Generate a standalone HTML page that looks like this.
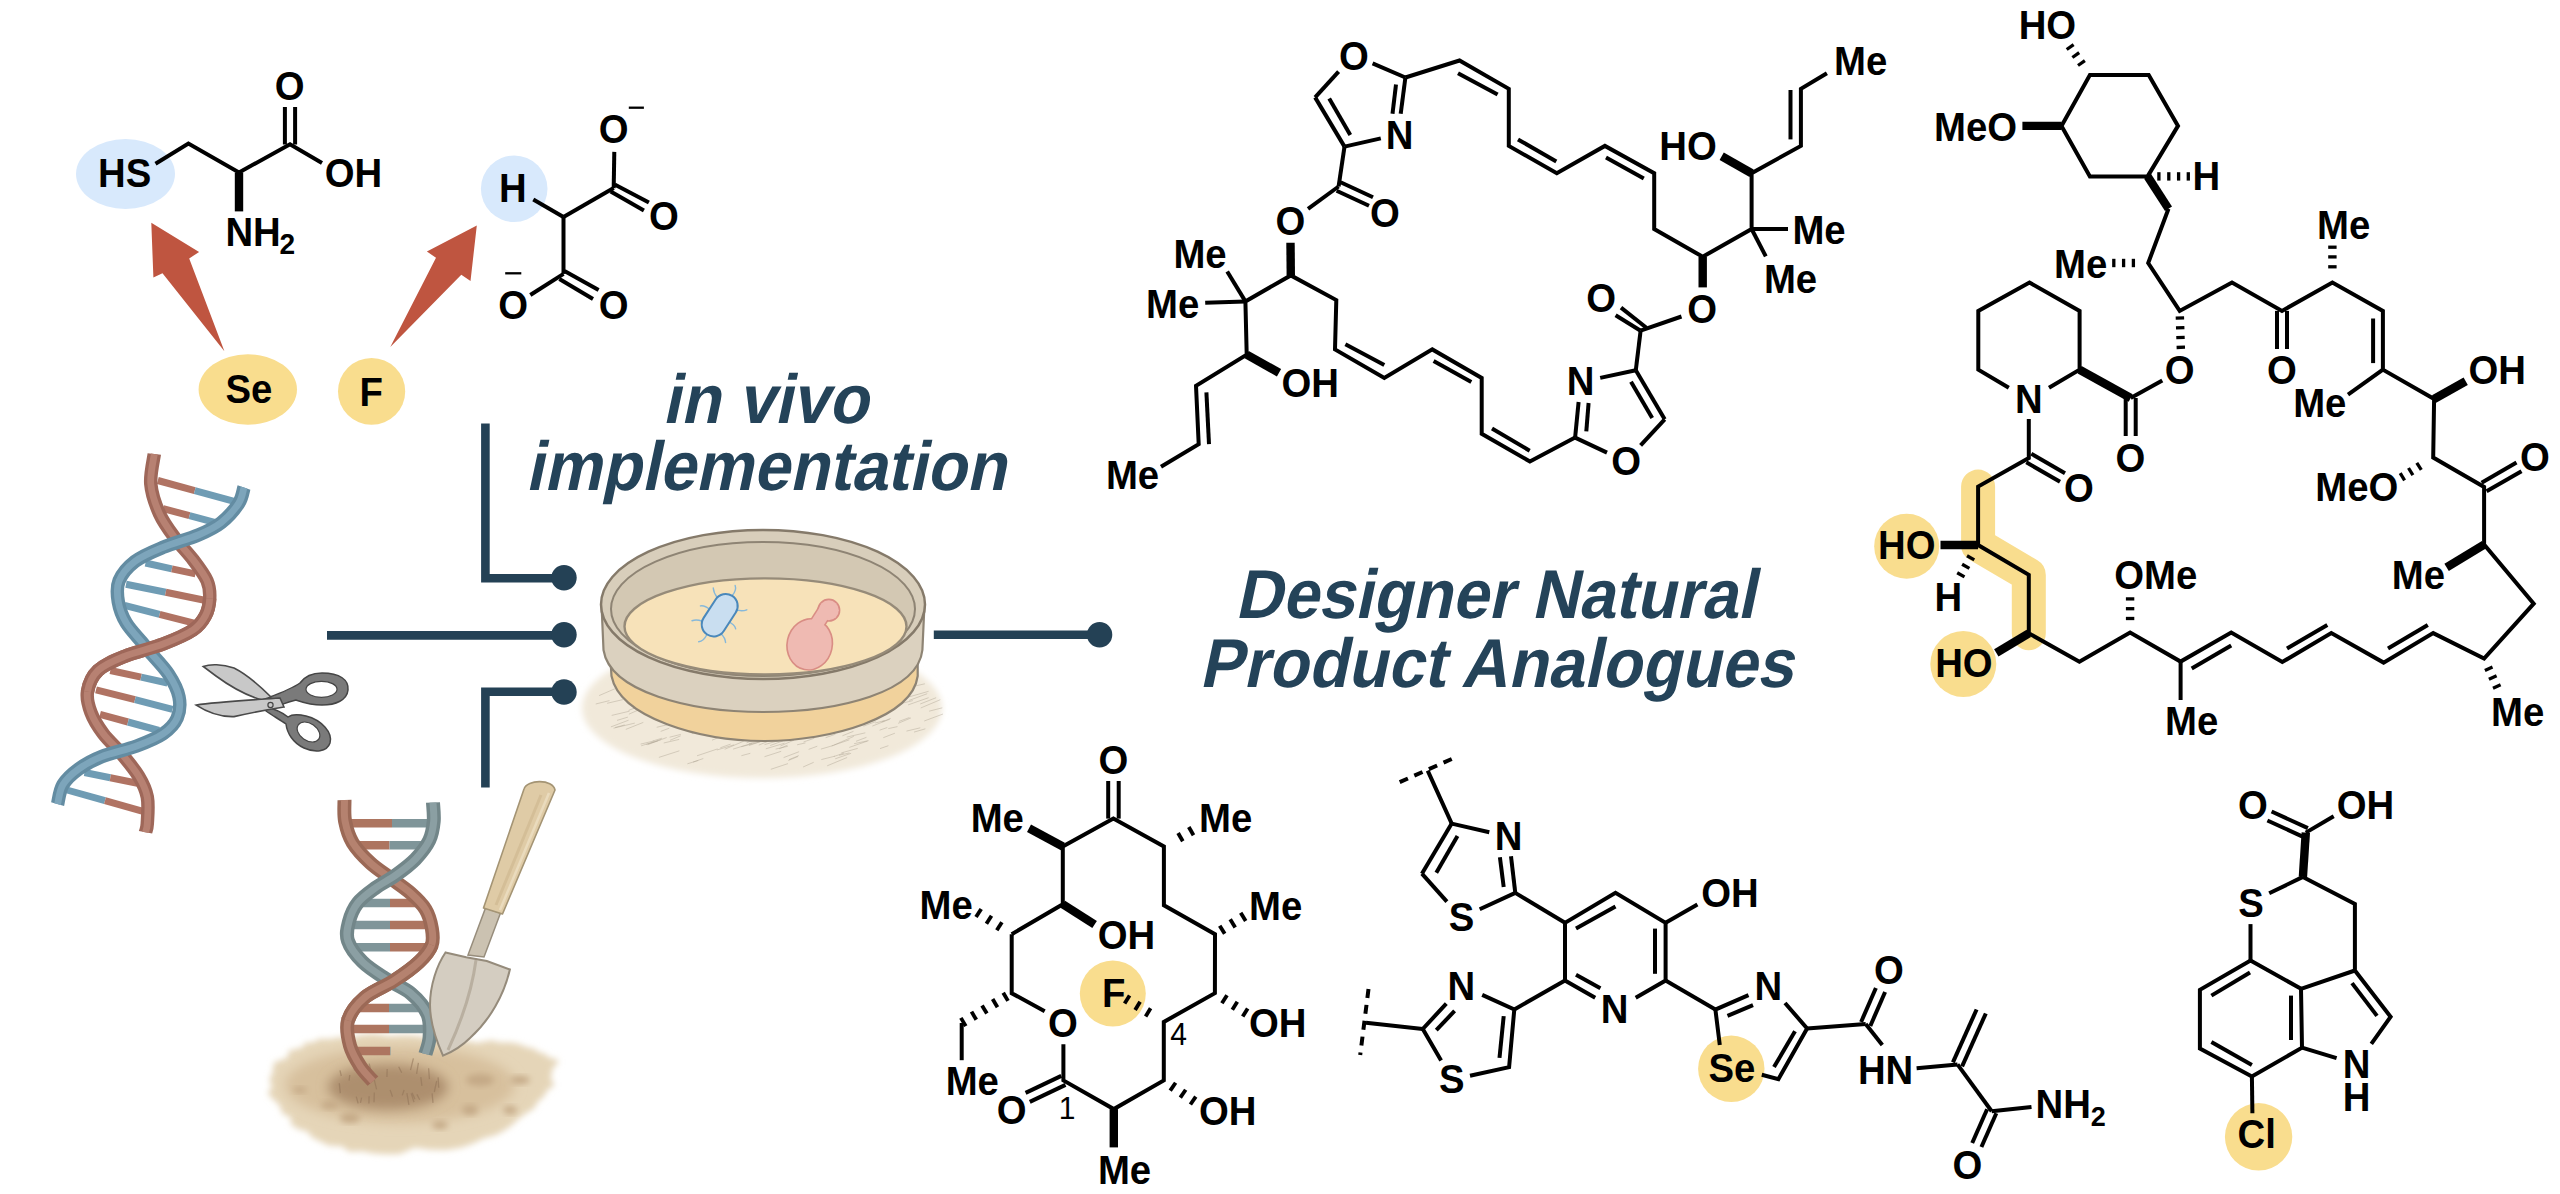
<!DOCTYPE html>
<html><head><meta charset="utf-8"><style>
html,body{margin:0;padding:0;background:#fff;}
svg{display:block;}
text{font-family:"Liberation Sans",sans-serif;}
</style></head><body>
<svg width="2560" height="1194" viewBox="0 0 2560 1194">
<rect width="2560" height="1194" fill="#fff"/>
<defs><filter id="blur6" x="-30%" y="-30%" width="160%" height="160%"><feGaussianBlur stdDeviation="6"/></filter><filter id="blur3" x="-30%" y="-30%" width="160%" height="160%"><feGaussianBlur stdDeviation="3"/></filter><filter id="blur10" x="-30%" y="-30%" width="160%" height="160%"><feGaussianBlur stdDeviation="10"/></filter></defs>
<ellipse cx="762" cy="708" rx="180" ry="70" fill="#f1e9da" filter="url(#blur3)"/>
<path d="M745.6,717.2 l19.9,-6.6 M765.3,721.1 l10.1,-3.2 M808.6,749.4 l8.7,-3.2 M817.1,724.9 l9.3,-4.1 M772.6,648.2 l9.9,-3.8 M595.7,704.0 l13.8,-3.4 M769.3,728.4 l14.4,-4.1 M747.4,678.4 l21.5,-4.6 M883.3,737.7 l11.6,-4.5 M857.0,695.3 l18.7,-6.6 M908.1,704.9 l20.5,-7.2 M610.9,726.9 l17.7,-6.7 M615.9,685.9 l20.8,-5.5 M626.9,674.0 l8.6,-3.7 M867.9,664.5 l15.0,-5.1 M652.7,741.0 l9.4,-2.8 M626.4,698.1 l10.3,-3.9 M693.0,762.1 l10.3,-3.6 M888.3,728.6 l9.2,-2.0 M660.7,675.6 l17.7,-6.5 M617.0,720.4 l10.9,-3.3 M717.0,702.5 l20.4,-6.7 M789.0,759.6 l9.8,-4.0 M673.6,666.2 l17.9,-4.0 M898.2,723.3 l12.8,-5.4 M669.6,737.2 l11.2,-2.8 M796.7,680.5 l10.1,-2.8 M783.6,757.6 l15.5,-5.9 M743.2,648.3 l9.9,-3.5 M788.1,658.2 l12.7,-3.0 M830.4,720.7 l9.1,-4.0 M756.2,740.8 l12.2,-2.6 M611.7,715.4 l17.8,-4.2 M846.7,737.1 l18.6,-4.3 M709.9,734.6 l20.0,-4.8 M733.1,749.1 l19.2,-5.9 M806.9,692.8 l15.5,-4.6 M613.5,728.2 l21.3,-5.1 M843.5,693.6 l17.5,-5.4 M741.4,755.7 l8.9,-2.4 M755.7,671.8 l16.9,-5.5 M803.1,767.0 l10.6,-4.7 M691.9,733.6 l10.0,-4.1 M906.5,731.1 l13.8,-3.3 M701.1,731.9 l10.2,-3.5 M897.5,693.0 l15.2,-5.6 M633.3,708.5 l19.1,-4.7 M683.3,663.3 l13.4,-5.1 M661.0,697.1 l15.9,-5.2 M697.0,755.8 l20.6,-6.9 M836.6,718.7 l11.9,-3.1 M879.5,672.8 l9.1,-4.0 M808.4,701.6 l16.2,-4.7 M828.0,667.5 l13.6,-5.5 M838.5,664.7 l11.1,-4.0 M832.5,711.8 l16.0,-4.3 M724.7,749.3 l19.0,-8.1 M631.1,702.6 l16.3,-3.8 M718.8,718.5 l19.7,-5.1 M920.2,704.0 l15.9,-6.3 M841.3,752.9 l16.4,-4.5 M775.6,749.1 l12.2,-2.8 M888.8,688.1 l8.7,-2.9 M780.4,746.0 l13.6,-5.9 M869.0,663.9 l12.3,-3.2 M768.4,739.9 l19.0,-5.4 M920.7,708.0 l19.6,-8.3 M663.6,712.7 l11.6,-3.2 M811.8,712.1 l18.9,-5.9 M695.7,692.6 l19.3,-4.5 M658.9,757.4 l20.5,-6.6 M788.4,667.7 l14.7,-4.8 M929.1,711.2 l13.2,-3.4 M784.8,707.8 l16.2,-7.0 M776.2,697.1 l20.9,-4.8 M680.6,705.3 l9.3,-3.2 M754.2,683.8 l10.2,-3.0 M653.9,671.4 l16.5,-6.1 M711.1,725.5 l9.1,-2.5 M628.6,710.4 l10.7,-4.2 M773.3,700.3 l12.5,-4.3 M772.9,662.0 l10.4,-3.1 M811.7,713.1 l19.1,-5.7 M889.2,672.1 l17.8,-4.5 M905.5,683.6 l12.1,-2.8 M670.0,740.3 l10.7,-4.5 M880.4,698.2 l17.6,-7.3 M728.0,734.6 l7.7,-3.0 M827.2,765.8 l19.9,-8.3 M764.5,744.6 l14.5,-4.1 M780.8,711.0 l14.8,-6.0 M650.5,668.1 l19.3,-4.1 M749.0,745.5 l11.9,-4.0 M767.9,699.4 l15.0,-6.6 M833.9,756.5 l10.0,-3.4 M847.5,695.9 l9.9,-4.0 M835.2,758.8 l15.9,-5.5 M797.9,709.6 l21.1,-5.4 M849.3,747.4 l18.3,-6.4 M831.7,745.9 l17.7,-6.1 M706.3,704.7 l7.7,-2.8 M811.7,726.1 l11.0,-2.5 M821.5,686.6 l16.5,-5.1 M774.2,693.8 l21.1,-6.2 M833.9,745.1 l19.9,-8.7 M803.5,742.0 l10.9,-3.8 M718.4,653.6 l11.2,-2.6 M780.3,710.1 l20.6,-6.4 M797.1,744.8 l8.4,-1.9 M641.8,705.1 l9.9,-3.2 M802.0,648.1 l20.1,-6.9 M772.0,722.5 l12.3,-4.6 M817.6,717.4 l11.5,-3.2 M640.6,744.1 l13.1,-3.1 M737.5,705.9 l20.2,-7.8 M770.8,769.3 l17.2,-5.7 M799.3,655.9 l15.9,-5.3 M772.5,657.2 l13.7,-3.9 M746.7,676.2 l15.3,-5.2 M861.2,713.2 l21.4,-4.8 M845.7,672.9 l9.3,-2.2 M863.4,726.2 l12.2,-4.6 M828.2,718.0 l15.6,-4.6 M852.4,666.2 l11.2,-2.4 M681.2,698.7 l15.4,-6.5 M777.3,650.0 l8.9,-2.5 M780.5,727.1 l12.6,-4.1 M659.8,687.4 l17.9,-4.4 M872.3,726.1 l17.5,-6.9 M735.6,675.6 l18.2,-6.5 M700.5,715.7 l18.0,-4.1 M736.8,691.0 l9.1,-2.2 M785.3,706.9 l16.5,-6.1 M660.7,731.4 l8.6,-3.2 M842.4,735.8 l11.1,-4.5 M712.0,740.2 l12.1,-5.0 M836.8,718.6 l20.3,-4.6 M909.2,700.4 l18.0,-6.7 M697.8,695.1 l20.5,-4.8 M673.1,689.9 l12.4,-4.4 M725.4,693.5 l10.2,-3.2 M868.0,714.6 l18.8,-5.8 M647.7,744.7 l19.0,-7.2 M778.2,718.3 l20.7,-6.0 M779.1,748.8 l8.4,-3.6 M615.1,727.5 l9.7,-2.6 M815.4,673.9 l10.7,-2.8 M770.2,745.5 l12.7,-4.6 M760.2,714.2 l17.4,-4.8 M909.8,696.7 l18.8,-5.4 M771.0,738.0 l18.2,-6.2 M734.3,660.2 l18.0,-3.9 M718.3,663.1 l10.3,-3.5 M625.8,729.4 l17.5,-7.0 M607.1,703.3 l15.8,-3.7 M650.5,670.0 l10.9,-3.0 M796.1,670.9 l9.9,-3.7 M646.2,744.5 l11.8,-3.7 M875.1,706.2 l11.3,-2.7 M909.6,687.2 l15.3,-3.4 M756.3,670.5 l8.5,-1.9 M869.5,693.1 l14.6,-4.7 M818.4,672.8 l7.7,-2.6 M716.9,750.0 l17.2,-5.2 M699.2,675.8 l19.2,-6.2 M679.6,713.8 l9.8,-2.6 M839.4,653.4 l14.0,-4.6 M924.2,721.0 l18.8,-7.0 M865.2,697.5 l19.2,-8.1 M878.3,668.8 l14.9,-4.7 M695.5,682.9 l8.5,-3.1 M750.9,738.7 l12.5,-3.5 M622.5,694.4 l14.1,-3.1 M879.6,730.2 l7.7,-2.7 M837.1,672.8 l15.1,-5.0 M868.8,668.5 l15.6,-5.8 M718.5,714.5 l11.4,-4.2 M724.2,732.0 l10.8,-4.3 M844.7,685.5 l20.3,-6.3 M841.9,685.8 l18.0,-7.6 M825.6,737.7 l9.9,-3.5 M882.1,721.8 l8.6,-3.4 M729.4,650.0 l19.8,-6.8 M766.6,729.3 l18.2,-4.6 M722.0,685.7 l12.6,-5.6 M727.3,736.6 l21.1,-5.5 M819.4,724.0 l7.8,-2.8 M706.5,729.8 l8.9,-3.2 M765.8,748.8 l18.7,-5.6 M641.2,745.8 l19.7,-6.2 M710.2,709.1 l9.6,-2.7 M839.0,755.3 l10.5,-2.4 M807.6,667.3 l8.6,-3.3 M789.7,736.2 l12.3,-2.8 M713.2,703.9 l9.5,-2.1 M777.9,717.4 l14.8,-5.6 M875.2,723.0 l9.4,-2.4 M687.4,763.8 l10.9,-3.3 M879.9,665.6 l14.4,-6.1 M818.7,682.5 l16.8,-4.5 M720.5,721.7 l17.6,-7.8 M655.8,704.6 l9.4,-3.3 M787.2,664.0 l14.3,-5.4 M786.7,685.8 l15.6,-6.8 M823.2,660.0 l20.5,-6.2 M751.8,696.8 l16.1,-4.5 M854.1,743.7 l14.5,-3.1 M730.2,699.9 l15.5,-3.6 M771.7,712.5 l13.7,-3.2 M844.9,722.5 l17.4,-6.4 M795.7,649.6 l9.2,-3.1 M763.4,694.7 l8.4,-2.4 M771.8,673.0 l11.6,-4.1 M821.3,759.6 l13.5,-3.4 M663.7,743.0 l15.5,-3.6 M628.9,714.2 l19.5,-8.7 M671.6,681.3 l11.5,-5.0 M726.0,689.2 l14.9,-6.4 M694.3,708.8 l20.6,-4.5 M752.8,668.5 l11.8,-2.7 M882.5,688.9 l13.6,-5.5 M656.7,727.3 l10.4,-2.5 M842.7,683.2 l20.0,-4.8 M838.2,658.6 l17.3,-3.9 M743.0,650.9 l10.4,-3.9 M837.2,667.1 l9.8,-3.8 M820.9,749.1 l12.7,-3.7 M899.0,721.4 l10.5,-3.9 M914.0,732.1 l11.4,-3.3 M741.3,712.9 l14.2,-6.1 M797.9,679.3 l11.2,-2.9 M615.9,679.4 l17.3,-6.7 M684.1,715.6 l10.3,-2.4 M748.9,743.6 l13.1,-3.0 M762.5,664.8 l15.2,-4.4 M712.7,730.8 l18.1,-5.8 M764.5,756.7 l16.7,-5.4 M861.8,662.8 l15.4,-6.0 M741.4,746.7 l18.4,-4.8 M668.8,707.5 l10.6,-3.3 M762.1,644.9 l15.8,-4.3 M788.3,760.5 l9.7,-4.0 M739.3,701.0 l11.3,-2.9 M787.0,715.0 l17.8,-6.9 M636.9,682.9 l8.1,-3.0 M805.5,712.5 l11.2,-3.4 M645.9,675.2 l9.9,-2.8 M880.0,748.6 l8.4,-2.9 M714.4,669.9 l19.8,-8.6 M758.8,745.1 l20.2,-8.3 M746.6,742.8 l8.0,-3.1 M724.5,681.1 l12.8,-5.5 M856.0,741.3 l10.5,-4.0 M780.9,673.4 l14.1,-3.2 M714.2,686.5 l20.8,-6.2 M599.1,695.6 l15.7,-6.8 M706.8,735.9 l19.2,-5.8 M899.7,703.8 l13.1,-3.2 M720.3,747.8 l10.4,-3.7 M650.2,715.8 l9.6,-3.8" stroke="#a59b8a" stroke-width="0.9" fill="none" opacity="0.45"/>
<path d="M610.5,660 L611.5,676 C620,718 700,741 765,741 C830,741 912,718 917.7,676 L917.7,660 Z" fill="#f1d29c" stroke="#8e8474" stroke-width="2.2"/>
<path d="M601.5,604 L603.5,650 C610,692 690,712 763,712 C840,712 918,692 922.4,650 L924.5,604 Z" fill="#dbd1bf" stroke="#8e8474" stroke-width="2.2"/>
<ellipse cx="763" cy="604.4" rx="162" ry="74.5" fill="#d8cebb" stroke="#857a6a" stroke-width="2.5"/>
<ellipse cx="763" cy="609" rx="152" ry="67" fill="#d3c8b3" stroke="#8e8474" stroke-width="2"/>
<ellipse cx="765.5" cy="626.4" rx="141" ry="48" fill="#f7e2b9" stroke="#968b79" stroke-width="2.4"/>
<g transform="rotate(-57 719.7 615.2)"><g stroke="#86b8da" stroke-width="1.4" fill="none" stroke-linecap="round"><path d="M705,604 q-1,-6 -5,-9"/><path d="M719,604 q1,-7 -2,-10"/><path d="M733,604 q2,-6 6,-9"/><path d="M705,626 q-1,6 -5,9"/><path d="M719,626 q1,7 -2,10"/><path d="M733,626 q2,6 6,9"/><path d="M696,615 q-7,1 -10,-3"/><path d="M743,615 q7,1 10,-3"/></g><rect x="696.7" y="603.2" width="46" height="24" rx="12" fill="#c9def0" stroke="#4a88bb" stroke-width="2"/></g>
<g fill="#efbab2" stroke="#d98d84" stroke-width="3.2"><ellipse cx="809.7" cy="644.4" rx="21.8" ry="24.9" transform="rotate(12 809.7 644.4)"/><circle cx="828.8" cy="610.2" r="10"/><path d="M813,630 L827,608" stroke-width="16.2"/></g>
<g fill="#efbab2" stroke="#efbab2" stroke-width="0"><ellipse cx="809.7" cy="644.4" rx="21.8" ry="24.9" transform="rotate(12 809.7 644.4)"/><circle cx="828.8" cy="610.2" r="10"/><path d="M813,630 L827,608" stroke-width="13"/></g>
<path d="M270.3,1083.2 L269.9,1077.8 L272.9,1072.7 L273.0,1067.2 L274.6,1061.9 L283.4,1059.4 L288.7,1056.2 L288.2,1050.9 L297.0,1048.8 L303.4,1047.0 L304.8,1042.7 L314.4,1042.3 L318.4,1039.0 L330.5,1039.1 L339.6,1037.2 L352.1,1038.3 L359.7,1034.7 L373.9,1033.7 L390.1,1036.3 L404.9,1035.3 L420.1,1036.3 L431.3,1041.1 L445.7,1037.4 L457.6,1039.1 L468.6,1041.3 L477.0,1043.1 L491.7,1040.3 L499.4,1042.6 L510.9,1042.5 L519.4,1044.3 L525.9,1047.1 L534.8,1048.9 L538.8,1052.4 L545.8,1054.0 L547.6,1057.2 L555.2,1058.9 L559.1,1061.5 L552.5,1068.4 L551.5,1074.0 L550.8,1079.5 L554.8,1084.8 L546.8,1090.8 L543.9,1096.5 L537.4,1102.1 L534.6,1108.0 L526.2,1113.3 L518.5,1118.7 L512.6,1124.5 L505.1,1130.0 L495.9,1135.0 L483.2,1138.4 L473.2,1143.6 L461.4,1147.5 L446.6,1150.0 L430.2,1149.7 L414.8,1147.6 L399.6,1154.0 L386.4,1154.3 L373.7,1153.5 L362.5,1151.2 L349.3,1151.7 L342.0,1146.3 L328.4,1145.4 L320.0,1141.3 L311.8,1137.2 L307.9,1131.8 L297.1,1128.6 L290.6,1123.7 L291.3,1117.4 L282.4,1113.7 L281.1,1108.9 L278.9,1104.3 L273.9,1099.9 L269.6,1095.8 L267.9,1091.4 L272.7,1087.4 Z" fill="#e5d5b8" filter="url(#blur3)"/>
<ellipse cx="400" cy="1085" rx="115" ry="38" fill="#d7c09d" filter="url(#blur6)"/>
<ellipse cx="388" cy="1087" rx="60" ry="23" fill="#ad8f6e" filter="url(#blur6)"/>
<path d="M402.3,1095.4 l1.8,-5.4 M414.0,1102.1 l-2.8,-8.7 M434.3,1092.0 l2.4,-11.2 M386.9,1077.1 l0.3,-8.0 M341.3,1076.0 l-1.3,-5.6 M416.6,1073.9 l1.8,-11.0 M401.7,1072.7 l-3.0,-5.9 M360.9,1076.0 l2.9,-5.9 M368.9,1103.6 l0.2,-7.3 M360.5,1102.8 l1.1,-5.2 M429.4,1079.1 l-0.8,-10.8 M354.6,1070.4 l-1.2,-7.8 M340.3,1093.1 l-1.0,-9.8 M421.9,1085.8 l-1.1,-8.6 M410.5,1070.1 l2.9,-11.8 M415.0,1099.3 l-2.9,-6.5 M376.6,1089.4 l-2.9,-11.7 M358.1,1103.3 l-1.8,-6.7 M433.0,1102.9 l-0.9,-9.5 M392.5,1096.7 l-2.4,-6.8 M419.7,1099.8 l-2.8,-5.4 M349.1,1080.6 l0.7,-5.6 M374.0,1102.2 l0.3,-9.8 M371.7,1074.6 l-2.5,-11.0 M408.9,1104.9 l-2.0,-11.7 M438.7,1087.7 l-0.6,-10.3" stroke="#8f7257" stroke-width="1.3" fill="none" opacity="0.55"/>
<ellipse cx="480" cy="1080" rx="14" ry="6" fill="#c4a986" filter="url(#blur3)"/>
<ellipse cx="470" cy="1110" rx="8" ry="5" fill="#c4a986" filter="url(#blur3)"/>
<ellipse cx="510" cy="1110" rx="7" ry="4" fill="#c4a986" filter="url(#blur3)"/>
<ellipse cx="350" cy="1118" rx="10" ry="5" fill="#c4a986" filter="url(#blur3)"/>
<ellipse cx="330" cy="1105" rx="9" ry="4" fill="#c4a986" filter="url(#blur3)"/>
<ellipse cx="440" cy="1125" rx="8" ry="4" fill="#c4a986" filter="url(#blur3)"/>
<ellipse cx="300" cy="1090" rx="7" ry="3" fill="#c4a986" filter="url(#blur3)"/>
<ellipse cx="520" cy="1080" rx="10" ry="4" fill="#c4a986" filter="url(#blur3)"/>
<line x1="157.8" y1="480.5" x2="194.8" y2="490.6" stroke="#b07363" stroke-width="7"/>
<line x1="194.8" y1="490.6" x2="236" y2="501.8" stroke="#6f9cb4" stroke-width="7"/>
<line x1="163.1" y1="508.6" x2="189.5" y2="515.7" stroke="#b07363" stroke-width="7"/>
<line x1="189.5" y1="515.7" x2="216.5" y2="522.9" stroke="#6f9cb4" stroke-width="7"/>
<line x1="145.5" y1="563" x2="171.9" y2="568.8" stroke="#6f9cb4" stroke-width="7"/>
<line x1="171.9" y1="568.8" x2="195.5" y2="573.9" stroke="#b07363" stroke-width="7"/>
<line x1="126" y1="584.2" x2="165.7" y2="592.3" stroke="#6f9cb4" stroke-width="7"/>
<line x1="165.7" y1="592.3" x2="204.5" y2="600.2" stroke="#b07363" stroke-width="7"/>
<line x1="124.5" y1="605.3" x2="159.6" y2="614.3" stroke="#6f9cb4" stroke-width="7"/>
<line x1="159.6" y1="614.3" x2="194" y2="623.2" stroke="#b07363" stroke-width="7"/>
<line x1="110.3" y1="670.5" x2="141.1" y2="677.2" stroke="#b07363" stroke-width="7"/>
<line x1="141.1" y1="677.2" x2="167.5" y2="683" stroke="#6f9cb4" stroke-width="7"/>
<line x1="96" y1="689.8" x2="135" y2="699.7" stroke="#b07363" stroke-width="7"/>
<line x1="135" y1="699.7" x2="172.5" y2="709.3" stroke="#6f9cb4" stroke-width="7"/>
<line x1="100" y1="714.4" x2="128" y2="722" stroke="#b07363" stroke-width="7"/>
<line x1="128" y1="722" x2="159" y2="730.5" stroke="#6f9cb4" stroke-width="7"/>
<line x1="84.5" y1="772.5" x2="110.3" y2="777.7" stroke="#6f9cb4" stroke-width="7"/>
<line x1="110.3" y1="777.7" x2="137.5" y2="783.2" stroke="#b07363" stroke-width="7"/>
<line x1="67" y1="790" x2="105" y2="800.6" stroke="#6f9cb4" stroke-width="7"/>
<line x1="105" y1="800.6" x2="143" y2="811.3" stroke="#b07363" stroke-width="7"/>
<path d="M154.3,454 C153.7,459 149.9,474 150.8,484 C151.7,494 155.5,504.8 159.6,513.9 C163.7,523 169.8,530.9 175.4,538.5 C181,546.1 187.7,552.6 193,559.6 C198.3,566.6 204.2,574.2 207,580.7 C209.8,587.2 210,592.4 209.7,598.3 C209.4,604.2 208.1,610.6 205.3,615.9 C202.5,621.2 200,625.3 193,630 C186,634.7 174.5,639.6 163.1,644 C151.7,648.4 135.2,652 124.4,656.4 C113.6,660.8 104.2,664.6 98,670.5 C91.8,676.4 88.7,684.6 87.5,691.6 C86.3,698.6 88.4,705.7 91,712.7 C93.6,719.7 98.3,727.1 103.3,733.8 C108.3,740.5 115,746.1 120.9,753.1 C126.8,760.1 134.1,768.7 138.5,776 C142.9,783.3 145.8,789.1 147.3,797 C148.8,804.9 147.6,817.6 147.3,823.5 C147,829.4 145.8,830.8 145.5,832.3" fill="none" stroke="#9e6759" stroke-width="13.5" stroke-linecap="butt"/>
<path d="M154.3,454 C153.7,459 149.9,474 150.8,484 C151.7,494 155.5,504.8 159.6,513.9 C163.7,523 169.8,530.9 175.4,538.5 C181,546.1 187.7,552.6 193,559.6 C198.3,566.6 204.2,574.2 207,580.7 C209.8,587.2 210,592.4 209.7,598.3 C209.4,604.2 208.1,610.6 205.3,615.9 C202.5,621.2 200,625.3 193,630 C186,634.7 174.5,639.6 163.1,644 C151.7,648.4 135.2,652 124.4,656.4 C113.6,660.8 104.2,664.6 98,670.5 C91.8,676.4 88.7,684.6 87.5,691.6 C86.3,698.6 88.4,705.7 91,712.7 C93.6,719.7 98.3,727.1 103.3,733.8 C108.3,740.5 115,746.1 120.9,753.1 C126.8,760.1 134.1,768.7 138.5,776 C142.9,783.3 145.8,789.1 147.3,797 C148.8,804.9 147.6,817.6 147.3,823.5 C147,829.4 145.8,830.8 145.5,832.3" fill="none" stroke="#b78172" stroke-width="6.8" stroke-linecap="butt"/>
<path d="M244,487.5 C243.1,490.1 242.5,497.4 238.7,503.3 C234.9,509.2 227.8,517.4 221.1,522.7 C214.4,528 208,530.9 198.3,535 C188.6,539.1 173.7,542.9 163.1,547.3 C152.5,551.7 142.3,555.8 135,561.4 C127.7,567 121.9,574 119.1,580.7 C116.3,587.4 117.1,594.8 118.3,601.8 C119.5,608.8 122.2,616.1 126.2,622.9 C130.2,629.6 138.2,637.6 142,642.3 C145.8,647 144.6,645.8 149,651.1 C153.4,656.4 163.4,666.4 168.4,674 C173.4,681.6 177.5,689.5 179,696.8 C180.5,704.1 179.8,711.8 177.2,718 C174.5,724.2 169.8,729.1 163.1,733.8 C156.3,738.5 146.9,742.2 136.7,746 C126.4,749.8 111.3,752.8 101.6,756.6 C91.9,760.4 85.2,764.3 78.7,769 C72.2,773.7 66.4,778.9 62.9,784.8 C59.4,790.6 58.5,800.9 57.6,804.1" fill="none" stroke="#638ca2" stroke-width="13.5" stroke-linecap="butt"/>
<path d="M244,487.5 C243.1,490.1 242.5,497.4 238.7,503.3 C234.9,509.2 227.8,517.4 221.1,522.7 C214.4,528 208,530.9 198.3,535 C188.6,539.1 173.7,542.9 163.1,547.3 C152.5,551.7 142.3,555.8 135,561.4 C127.7,567 121.9,574 119.1,580.7 C116.3,587.4 117.1,594.8 118.3,601.8 C119.5,608.8 122.2,616.1 126.2,622.9 C130.2,629.6 138.2,637.6 142,642.3 C145.8,647 144.6,645.8 149,651.1 C153.4,656.4 163.4,666.4 168.4,674 C173.4,681.6 177.5,689.5 179,696.8 C180.5,704.1 179.8,711.8 177.2,718 C174.5,724.2 169.8,729.1 163.1,733.8 C156.3,738.5 146.9,742.2 136.7,746 C126.4,749.8 111.3,752.8 101.6,756.6 C91.9,760.4 85.2,764.3 78.7,769 C72.2,773.7 66.4,778.9 62.9,784.8 C59.4,790.6 58.5,800.9 57.6,804.1" fill="none" stroke="#7da5bb" stroke-width="6.8" stroke-linecap="butt"/>
<path d="M209.7,598.3 C209.4,604.2 208.1,610.6 205.3,615.9 C202.5,621.2 200,625.3 193,630 C186,634.7 174.5,639.6 163.1,644 C151.7,648.4 135.2,652 124.4,656.4 C113.6,660.8 104.2,664.6 98,670.5 C91.8,676.4 88.7,684.6 87.5,691.6" fill="none" stroke="#9e6759" stroke-width="13.5" stroke-linecap="butt"/>
<path d="M209.7,598.3 C209.4,604.2 208.1,610.6 205.3,615.9 C202.5,621.2 200,625.3 193,630 C186,634.7 174.5,639.6 163.1,644 C151.7,648.4 135.2,652 124.4,656.4 C113.6,660.8 104.2,664.6 98,670.5 C91.8,676.4 88.7,684.6 87.5,691.6" fill="none" stroke="#b78172" stroke-width="6.8" stroke-linecap="butt"/>
<path d="M262,700 C275,695 290,690 300,683 C305,676 312,673 322,673 C340,673 349,680 348,690 C347,700 336,705 322,705 C310,705 302,702 296,700 C288,702 280,705 275,708 Z" fill="#7a7a7a" stroke="#454545" stroke-width="1.5"/>
<ellipse cx="321.5" cy="689.3" rx="15.5" ry="8" fill="#fff" stroke="#444" stroke-width="1.2"/>
<path d="M266,707 C275,709 283,713 288,717 C292,714 298,714 306,716 C322,720 333,733 330,743 C327,752 315,753 304,748 C293,743 287,733 286,724 C280,720 272,715 266,711 Z" fill="#7a7a7a" stroke="#454545" stroke-width="1.5"/>
<ellipse cx="308.5" cy="732" rx="12.5" ry="8.5" transform="rotate(35 308.5 732)" fill="#fff" stroke="#444" stroke-width="1.2"/>
<path d="M203.2,666.4 C210,664 222,664 234,668 C248,675 262,688 271,697 L262,700 C248,696 235,690 216,676 Z" fill="#c8c8c8" stroke="#4a4a4a" stroke-width="1.6"/>
<path d="M196.2,705.1 C215,702 245,700.5 280,698 L284,707 C265,710 250,713 234,716.6 C222,717 210,714 196.2,705.1 Z" fill="#c8c8c8" stroke="#4a4a4a" stroke-width="1.6"/>
<circle cx="270.5" cy="705" r="2.6" fill="none" stroke="#444" stroke-width="1.2"/>
<line x1="350" y1="823.3" x2="392" y2="823.3" stroke="#ad7560" stroke-width="8.5"/>
<line x1="392" y1="823.3" x2="428" y2="823.3" stroke="#7f9599" stroke-width="8.5"/>
<line x1="354" y1="845.3" x2="389.5" y2="845.3" stroke="#ad7560" stroke-width="8.5"/>
<line x1="389.5" y1="845.3" x2="424" y2="845.3" stroke="#7f9599" stroke-width="8.5"/>
<line x1="358" y1="903" x2="390" y2="903" stroke="#7f9599" stroke-width="8.5"/>
<line x1="390" y1="903" x2="418" y2="903" stroke="#ad7560" stroke-width="8.5"/>
<line x1="350" y1="925" x2="390" y2="925" stroke="#7f9599" stroke-width="8.5"/>
<line x1="390" y1="925" x2="430" y2="925" stroke="#ad7560" stroke-width="8.5"/>
<line x1="352" y1="947.2" x2="390" y2="947.2" stroke="#7f9599" stroke-width="8.5"/>
<line x1="390" y1="947.2" x2="428" y2="947.2" stroke="#ad7560" stroke-width="8.5"/>
<line x1="354" y1="1008" x2="389" y2="1008" stroke="#ad7560" stroke-width="8.5"/>
<line x1="389" y1="1008" x2="422" y2="1008" stroke="#7f9599" stroke-width="8.5"/>
<line x1="352" y1="1029" x2="389" y2="1029" stroke="#ad7560" stroke-width="8.5"/>
<line x1="389" y1="1029" x2="426" y2="1029" stroke="#7f9599" stroke-width="8.5"/>
<line x1="356" y1="1050.9" x2="390" y2="1050.9" stroke="#ad7560" stroke-width="8.5"/>
<line x1="390" y1="1050.9" x2="390.5" y2="1050.9" stroke="#7f9599" stroke-width="8.5"/>
<path d="M344.5,800 C344.6,803.6 343.7,814.3 345.1,821.4 C346.5,828.5 348.5,835.9 352.7,842.8 C356.9,849.7 364,857 370.3,862.9 C376.6,868.8 383.7,873 390.4,878 C397.1,883 404.6,887.8 410.5,893 C416.4,898.2 421.9,903.4 425.5,909.3 C429.1,915.2 430.8,922.2 431.8,928.2 C432.8,934.2 433.8,939.4 431.7,945 C429.6,950.6 425.4,955.9 419.1,961.9 C412.8,967.9 403.1,974.8 394,980.7 C384.9,986.6 372.4,990.9 364.7,997.5 C357,1004.1 350.4,1012.5 348,1020.5 C345.6,1028.5 347.9,1037.9 350,1045.6 C352.1,1053.3 356.7,1060.7 360.5,1066.6 C364.3,1072.5 370.9,1078.8 373,1081.2" fill="none" stroke="#9b6956" stroke-width="14" stroke-linecap="butt"/>
<path d="M344.5,800 C344.6,803.6 343.7,814.3 345.1,821.4 C346.5,828.5 348.5,835.9 352.7,842.8 C356.9,849.7 364,857 370.3,862.9 C376.6,868.8 383.7,873 390.4,878 C397.1,883 404.6,887.8 410.5,893 C416.4,898.2 421.9,903.4 425.5,909.3 C429.1,915.2 430.8,922.2 431.8,928.2 C432.8,934.2 433.8,939.4 431.7,945 C429.6,950.6 425.4,955.9 419.1,961.9 C412.8,967.9 403.1,974.8 394,980.7 C384.9,986.6 372.4,990.9 364.7,997.5 C357,1004.1 350.4,1012.5 348,1020.5 C345.6,1028.5 347.9,1037.9 350,1045.6 C352.1,1053.3 356.7,1060.7 360.5,1066.6 C364.3,1072.5 370.9,1078.8 373,1081.2" fill="none" stroke="#b5826f" stroke-width="7" stroke-linecap="butt"/>
<path d="M433,802.6 C433.1,805.7 434.3,815.1 433.7,821.4 C433.1,827.7 432.3,834 429.3,840.3 C426.3,846.6 421.1,853.2 415.5,859.1 C409.9,865 402.1,870.6 395.4,875.4 C388.7,880.2 381.6,883.4 375.3,888 C369,892.6 362.1,897.4 357.7,903 C353.3,908.6 350.5,915.6 348.9,921.9 C347.3,928.2 345.7,934.3 348,941 C350.3,947.7 356.3,955.6 362.6,961.9 C368.9,968.2 377.6,973.4 385.6,978.6 C393.6,983.8 403.8,987.4 410.8,993.3 C417.8,999.2 424.4,1006.9 427.5,1014.2 C430.6,1021.5 430,1030.7 429.6,1037.3 C429.2,1043.9 426.1,1051.2 425.4,1054" fill="none" stroke="#728689" stroke-width="14" stroke-linecap="butt"/>
<path d="M433,802.6 C433.1,805.7 434.3,815.1 433.7,821.4 C433.1,827.7 432.3,834 429.3,840.3 C426.3,846.6 421.1,853.2 415.5,859.1 C409.9,865 402.1,870.6 395.4,875.4 C388.7,880.2 381.6,883.4 375.3,888 C369,892.6 362.1,897.4 357.7,903 C353.3,908.6 350.5,915.6 348.9,921.9 C347.3,928.2 345.7,934.3 348,941 C350.3,947.7 356.3,955.6 362.6,961.9 C368.9,968.2 377.6,973.4 385.6,978.6 C393.6,983.8 403.8,987.4 410.8,993.3 C417.8,999.2 424.4,1006.9 427.5,1014.2 C430.6,1021.5 430,1030.7 429.6,1037.3 C429.2,1043.9 426.1,1051.2 425.4,1054" fill="none" stroke="#8b9fa3" stroke-width="7" stroke-linecap="butt"/>
<path d="M431.7,945 C429.6,950.6 425.4,955.9 419.1,961.9 C412.8,967.9 403.1,974.8 394,980.7 C384.9,986.6 372.4,990.9 364.7,997.5 C357,1004.1 350.4,1012.5 348,1020.5" fill="none" stroke="#9b6956" stroke-width="14" stroke-linecap="butt"/>
<path d="M431.7,945 C429.6,950.6 425.4,955.9 419.1,961.9 C412.8,967.9 403.1,974.8 394,980.7 C384.9,986.6 372.4,990.9 364.7,997.5 C357,1004.1 350.4,1012.5 348,1020.5" fill="none" stroke="#b5826f" stroke-width="7" stroke-linecap="butt"/>
<path d="M485.5,908 L500.5,913 L484,957 L468,955 Z" fill="#cbc2b1" stroke="#978d7c" stroke-width="1.5"/>
<path d="M524,789 C527,779 553,779 555,790 L502.5,914 L483.5,908 Z" fill="#dfcba6" stroke="#a49474" stroke-width="1.6" stroke-linejoin="round"/>
<path d="M541,795 L496,905" stroke="#cdb68e" stroke-width="3" opacity="0.6"/>
<path d="M549,793 L500,910" stroke="#efe2c8" stroke-width="2.5" opacity="0.7"/>
<path d="M445.5,952.5 L466.2,957.3 L486.8,961 L509.9,969.5 C504,995 490,1020 470,1038 C462,1046 452,1052 443,1055.7 C436,1040 430,1020 430,1005 C430,985 437,965 445.5,952.5 Z" fill="#d4cdc1" stroke="#958b7b" stroke-width="2"/>
<path d="M476,960 C472,990 462,1020 448,1050" stroke="#b2a897" stroke-width="3" fill="none" opacity="0.8"/>
<path d="M485.4,423.4 V578.2 H564 M327,635.4 H564 M485.4,787.5 V691.7 H564 M933.8,634.7 H1099.6" fill="none" stroke="#244155" stroke-width="8.6"/>
<circle cx="564" cy="577.7" r="12.7" fill="#244155"/>
<circle cx="564" cy="634.7" r="12.7" fill="#244155"/>
<circle cx="564" cy="692" r="12.7" fill="#244155"/>
<circle cx="1099.6" cy="634.7" r="12.7" fill="#244155"/>
<g fill="#244359" font-weight="bold" font-size="65" text-anchor="middle">
<text transform="translate(765,422.6) skewX(-12) scale(1,1.065)">in vivo</text>
<text transform="translate(765.5,489.7) skewX(-12) scale(1,1.065)">implementation</text>
<text transform="translate(1495,618.3) skewX(-12) scale(1,1.065)">Designer Natural</text>
<text transform="translate(1496,687.3) skewX(-12) scale(1,1.065)">Product Analogues</text>
</g>
<ellipse cx="125.5" cy="174" rx="49.5" ry="35" fill="#d8e9fc"/>
<text transform="translate(124.7,187) scale(1,1.04)" font-size="38.3" text-anchor="middle" font-weight="bold" fill="#000">HS</text>
<polyline points="155.5,163.7 188.4,143.6 239,172.5 290,144.2 322,163" fill="none" stroke="#000" stroke-width="4" stroke-linejoin="miter"/>
<line x1="295.1" y1="144.5" x2="295.1" y2="107" stroke="#000" stroke-width="4"/>
<line x1="284.9" y1="144.5" x2="284.9" y2="107" stroke="#000" stroke-width="4"/>
<text transform="translate(289.6,99.5) scale(1,1.04)" font-size="38.3" text-anchor="middle" font-weight="bold" fill="#000">O</text>
<text transform="translate(353.5,187.1) scale(1,1.04)" font-size="38.3" text-anchor="middle" font-weight="bold" fill="#000">OH</text>
<polygon points="234.8,172.5 234.8,211.4 243.2,211.4 243.2,172.5" fill="#000"/>
<text transform="translate(225.4,245.5) scale(1,1.04)" font-size="38.3" text-anchor="start" font-weight="bold" fill="#000">NH</text>
<text transform="translate(279.6,254.2) scale(1,1.04)" font-size="28.1" text-anchor="start" font-weight="bold" fill="#000">2</text>
<circle cx="514.2" cy="188.8" r="33.3" fill="#d8e9fc"/>
<text transform="translate(512.8,201.7) scale(1,1.04)" font-size="38.3" text-anchor="middle" font-weight="bold" fill="#000">H</text>
<line x1="533.3" y1="199.5" x2="563.5" y2="217" stroke="#000" stroke-width="4"/>
<polyline points="563.5,217 613.7,188.1" fill="none" stroke="#000" stroke-width="4" stroke-linejoin="miter"/>
<line x1="613.7" y1="188.1" x2="614.3" y2="151.9" stroke="#000" stroke-width="4"/>
<text transform="translate(613.7,143.4) scale(1,1.04)" font-size="38.3" text-anchor="middle" font-weight="bold" fill="#000">O</text>
<line x1="628.8" y1="107.7" x2="643.9" y2="107.7" stroke="#000" stroke-width="2.3"/>
<line x1="614.7" y1="184.5" x2="648.9" y2="202.6" stroke="#000" stroke-width="4"/>
<line x1="610.7" y1="191.5" x2="643.9" y2="210.6" stroke="#000" stroke-width="4"/>
<text transform="translate(664,230.3) scale(1,1.04)" font-size="38.3" text-anchor="middle" font-weight="bold" fill="#000">O</text>
<line x1="563.5" y1="217" x2="563.5" y2="273.9" stroke="#000" stroke-width="4"/>
<line x1="563.5" y1="273.9" x2="530.3" y2="295" stroke="#000" stroke-width="4"/>
<text transform="translate(513.2,318.7) scale(1,1.04)" font-size="38.3" text-anchor="middle" font-weight="bold" fill="#000">O</text>
<line x1="505.2" y1="273.3" x2="521.3" y2="273.3" stroke="#000" stroke-width="2.3"/>
<line x1="564.5" y1="270.9" x2="598.6" y2="290" stroke="#000" stroke-width="4"/>
<line x1="559.4" y1="279" x2="593" y2="299" stroke="#000" stroke-width="4"/>
<text transform="translate(613.7,318.7) scale(1,1.04)" font-size="38.3" text-anchor="middle" font-weight="bold" fill="#000">O</text>
<path d="M151.3,222.7 L199.1,251.9 L189.2,258.5 L224.4,351.3 L162.5,273.3 L153.4,277.5 Z" fill="#bf5540"/>
<path d="M476.8,225.5 L426.9,251.5 L436,257.8 L390.3,347.1 L461.3,274.7 L470.5,281 Z" fill="#bf5540"/>
<ellipse cx="247.8" cy="389.5" rx="49.2" ry="35.2" fill="#f9dd8e"/>
<text transform="translate(248.8,403.1) scale(1,1.04)" font-size="38.3" text-anchor="middle" font-weight="bold" fill="#000">Se</text>
<ellipse cx="371.6" cy="391.4" rx="33.6" ry="33.4" fill="#f9dd8e"/>
<text transform="translate(371.3,405.7) scale(1,1.04)" font-size="38.3" text-anchor="middle" font-weight="bold" fill="#000">F</text>
<text transform="translate(1353.8,70.1) scale(1,1.04)" font-size="38.3" text-anchor="middle" font-weight="bold" fill="#000">O</text>
<line x1="1338.6" y1="71.6" x2="1315.1" y2="97.4" stroke="#000" stroke-width="4"/>
<line x1="1372.6" y1="63.4" x2="1405.4" y2="77.5" stroke="#000" stroke-width="4"/>
<line x1="1405.4" y1="77.5" x2="1400.7" y2="113.8" stroke="#000" stroke-width="4"/>
<line x1="1396" y1="84.5" x2="1392.5" y2="113.8" stroke="#000" stroke-width="4"/>
<text transform="translate(1399.6,148.6) scale(1,1.04)" font-size="38.3" text-anchor="middle" font-weight="bold" fill="#000">N</text>
<line x1="1380.8" y1="138.4" x2="1344.5" y2="146.6" stroke="#000" stroke-width="4"/>
<line x1="1344.5" y1="146.6" x2="1315.1" y2="97.4" stroke="#000" stroke-width="4"/>
<line x1="1350.3" y1="134.9" x2="1329.2" y2="98.6" stroke="#000" stroke-width="4"/>
<polyline points="1405.4,77.5 1459.5,60.5 1508.8,88.8 1508.8,145.9 1556.8,173.2 1604.9,145.9 1654.2,173.2 1654.2,229 1702.7,256.8 1751.6,229 1751.6,173.2 1800.9,145.9 1800.9,88.8 1826.9,73.2" fill="none" stroke="#000" stroke-width="4" stroke-linejoin="miter"/>
<line x1="1458" y1="73.2" x2="1497.6" y2="94.5" stroke="#000" stroke-width="4"/>
<line x1="1518" y1="139.4" x2="1556.3" y2="161.5" stroke="#000" stroke-width="4"/>
<line x1="1606" y1="157.6" x2="1643.8" y2="178.4" stroke="#000" stroke-width="4"/>
<line x1="1790.5" y1="90" x2="1790.5" y2="139.4" stroke="#000" stroke-width="4"/>
<text transform="translate(1860.6,75.2) scale(1,1.04)" font-size="38.3" text-anchor="middle" font-weight="bold" fill="#000">Me</text>
<polygon points="1753.7,169.5 1723.8,152.6 1719.6,160 1749.5,176.9" fill="#000"/>
<text transform="translate(1688,159.6) scale(1,1.04)" font-size="38.3" text-anchor="middle" font-weight="bold" fill="#000">HO</text>
<line x1="1751.6" y1="229" x2="1788" y2="229" stroke="#000" stroke-width="4"/>
<text transform="translate(1819,244) scale(1,1.04)" font-size="38.3" text-anchor="middle" font-weight="bold" fill="#000">Me</text>
<line x1="1751.6" y1="229" x2="1765.8" y2="256.3" stroke="#000" stroke-width="4"/>
<text transform="translate(1790.5,293.3) scale(1,1.04)" font-size="38.3" text-anchor="middle" font-weight="bold" fill="#000">Me</text>
<polygon points="1698.5,256.8 1698.5,287.4 1706.9,287.4 1706.9,256.8" fill="#000"/>
<text transform="translate(1702.2,323.2) scale(1,1.04)" font-size="38.3" text-anchor="middle" font-weight="bold" fill="#000">O</text>
<line x1="1681.5" y1="316.5" x2="1640.6" y2="330.7" stroke="#000" stroke-width="4"/>
<line x1="1640.6" y1="330.7" x2="1615.6" y2="315.3" stroke="#000" stroke-width="4"/>
<line x1="1646.4" y1="327.8" x2="1621" y2="307.6" stroke="#000" stroke-width="4"/>
<text transform="translate(1601.1,311.7) scale(1,1.04)" font-size="38.3" text-anchor="middle" font-weight="bold" fill="#000">O</text>
<line x1="1640.6" y1="330.7" x2="1635.8" y2="370.2" stroke="#000" stroke-width="4"/>
<text transform="translate(1580.5,395.4) scale(1,1.04)" font-size="38.3" text-anchor="middle" font-weight="bold" fill="#000">N</text>
<line x1="1600.2" y1="377.9" x2="1635.8" y2="370.2" stroke="#000" stroke-width="4"/>
<line x1="1575.1" y1="437.6" x2="1578.6" y2="402" stroke="#000" stroke-width="4"/>
<line x1="1586.3" y1="431.4" x2="1588.6" y2="403" stroke="#000" stroke-width="4"/>
<line x1="1635.8" y1="370.2" x2="1664.7" y2="419.3" stroke="#000" stroke-width="4"/>
<line x1="1631" y1="381.7" x2="1652.2" y2="418" stroke="#000" stroke-width="4"/>
<line x1="1664.7" y1="419.3" x2="1640.6" y2="445.3" stroke="#000" stroke-width="4"/>
<text transform="translate(1626.2,475.4) scale(1,1.04)" font-size="38.3" text-anchor="middle" font-weight="bold" fill="#000">O</text>
<line x1="1607" y1="452.6" x2="1575.1" y2="437.6" stroke="#000" stroke-width="4"/>
<polyline points="1575.1,437.6 1529.9,461.5 1481.7,433.8 1481.7,378 1432.3,349.4 1384.3,378 1335,349.4 1336.3,300.1 1290.8,275.4 1245.4,301.4 1246.7,354.6 1196,385.8 1198.7,444.2 1161,466.8" fill="none" stroke="#000" stroke-width="4" stroke-linejoin="miter"/>
<line x1="1492" y1="428.6" x2="1529.7" y2="450.7" stroke="#000" stroke-width="4"/>
<line x1="1433.6" y1="361" x2="1471.3" y2="381.9" stroke="#000" stroke-width="4"/>
<line x1="1345.4" y1="344.2" x2="1384.3" y2="365" stroke="#000" stroke-width="4"/>
<line x1="1206.4" y1="392.3" x2="1209" y2="444.2" stroke="#000" stroke-width="4"/>
<text transform="translate(1132.5,489.1) scale(1,1.04)" font-size="38.3" text-anchor="middle" font-weight="bold" fill="#000">Me</text>
<polygon points="1295,275.4 1294.7,242.8 1286.3,242.8 1286.6,275.4" fill="#000"/>
<text transform="translate(1290.5,235.4) scale(1,1.04)" font-size="38.3" text-anchor="middle" font-weight="bold" fill="#000">O</text>
<line x1="1308" y1="208.8" x2="1338.6" y2="186.5" stroke="#000" stroke-width="4"/>
<line x1="1336.6" y1="190.8" x2="1369" y2="205.8" stroke="#000" stroke-width="4"/>
<line x1="1340.6" y1="182.2" x2="1373" y2="197.2" stroke="#000" stroke-width="4"/>
<text transform="translate(1385,227.2) scale(1,1.04)" font-size="38.3" text-anchor="middle" font-weight="bold" fill="#000">O</text>
<line x1="1338.6" y1="186.5" x2="1344.5" y2="146.6" stroke="#000" stroke-width="4"/>
<line x1="1245.4" y1="301.4" x2="1227.2" y2="271.5" stroke="#000" stroke-width="4"/>
<text transform="translate(1200,268.4) scale(1,1.04)" font-size="38.3" text-anchor="middle" font-weight="bold" fill="#000">Me</text>
<line x1="1245.4" y1="301.4" x2="1205.2" y2="302.7" stroke="#000" stroke-width="4"/>
<text transform="translate(1172.7,317.7) scale(1,1.04)" font-size="38.3" text-anchor="middle" font-weight="bold" fill="#000">Me</text>
<polygon points="1244.6,358.3 1276.9,376.5 1281.1,369.1 1248.8,350.9" fill="#000"/>
<text transform="translate(1310.3,396.9) scale(1,1.04)" font-size="38.3" text-anchor="middle" font-weight="bold" fill="#000">OH</text>
<path d="M1978.1,486.6 L1978.1,545 L2028.8,574.9 L2028.8,633.3" fill="none" stroke="#f9dd8e" stroke-width="34" stroke-linecap="round" stroke-linejoin="round"/>
<circle cx="1906.7" cy="546.3" r="32.5" fill="#f9dd8e"/>
<circle cx="1963.3" cy="664" r="33" fill="#f9dd8e"/>
<polygon points="2089.9,75.1 2148.7,75.1 2178,125.9 2147.6,176.4 2089.9,176.4 2061.5,125.9" fill="none" stroke="#000" stroke-width="4.0"/>
<line x1="2073.6" y1="44.6" x2="2066.7" y2="49.5" stroke="#000" stroke-width="3.3"/>
<line x1="2079.2" y1="52.6" x2="2072.4" y2="57.5" stroke="#000" stroke-width="3.3"/>
<line x1="2084.9" y1="60.7" x2="2078" y2="65.5" stroke="#000" stroke-width="3.3"/>
<text transform="translate(2047.4,39.4) scale(1,1.04)" font-size="38.3" text-anchor="middle" font-weight="bold" fill="#000">HO</text>
<polygon points="2061.5,121.7 2022.4,121.7 2022.4,130.1 2061.5,130.1" fill="#000"/>
<text transform="translate(1975.5,141.1) scale(1,1.04)" font-size="38.3" text-anchor="middle" font-weight="bold" fill="#000">MeO</text>
<line x1="2188.3" y1="180.6" x2="2188.3" y2="172.2" stroke="#000" stroke-width="3.3"/>
<line x1="2178.6" y1="180.6" x2="2178.6" y2="172.2" stroke="#000" stroke-width="3.3"/>
<line x1="2168.8" y1="180.6" x2="2168.8" y2="172.2" stroke="#000" stroke-width="3.3"/>
<line x1="2158.9" y1="180.6" x2="2158.9" y2="172.2" stroke="#000" stroke-width="3.3"/>
<text transform="translate(2206.4,190.1) scale(1,1.04)" font-size="38.3" text-anchor="middle" font-weight="bold" fill="#000">H</text>
<polygon points="2144.1,178.7 2165,211.1 2172,206.5 2151.1,174.1" fill="#000"/>
<polyline points="2168.5,208.8 2148.2,263 2179.7,310.9 2232,282.6 2282,310.9 2332.4,282.6 2382.9,310.9 2382.9,369.7 2434.1,399 2433.2,457.5 2484.1,487 2484.1,544.6 2533.7,603.6 2484.1,658.5 2433.2,633.1 2383.6,662.6 2331.3,633.1 2282.3,662 2231.2,632.5 2180.6,661.6 2130.1,632.5 2079.4,661.8 2028.8,633.3 2028.8,574.9 1978.1,545 1978.1,486.6 2028.8,458 2028.8,419.1" fill="none" stroke="#000" stroke-width="4" stroke-linejoin="miter"/>
<line x1="2113.8" y1="258.8" x2="2113.8" y2="267.2" stroke="#000" stroke-width="3.3"/>
<line x1="2123.6" y1="258.8" x2="2123.6" y2="267.2" stroke="#000" stroke-width="3.3"/>
<line x1="2133.4" y1="258.8" x2="2133.4" y2="267.2" stroke="#000" stroke-width="3.3"/>
<text transform="translate(2080.7,277.7) scale(1,1.04)" font-size="38.3" text-anchor="middle" font-weight="bold" fill="#000">Me</text>
<line x1="2176.6" y1="347.5" x2="2185" y2="347.2" stroke="#000" stroke-width="3.3"/>
<line x1="2176.3" y1="337.7" x2="2184.7" y2="337.4" stroke="#000" stroke-width="3.3"/>
<line x1="2176" y1="327.9" x2="2184.4" y2="327.6" stroke="#000" stroke-width="3.3"/>
<line x1="2175.7" y1="318.1" x2="2184.1" y2="317.8" stroke="#000" stroke-width="3.3"/>
<text transform="translate(2179.7,384.4) scale(1,1.04)" font-size="38.3" text-anchor="middle" font-weight="bold" fill="#000">O</text>
<line x1="2277" y1="310.9" x2="2277" y2="349" stroke="#000" stroke-width="4"/>
<line x1="2287" y1="310.9" x2="2287" y2="349" stroke="#000" stroke-width="4"/>
<text transform="translate(2282,384.4) scale(1,1.04)" font-size="38.3" text-anchor="middle" font-weight="bold" fill="#000">O</text>
<line x1="2336.6" y1="247.2" x2="2328.2" y2="247.2" stroke="#000" stroke-width="3.3"/>
<line x1="2336.6" y1="256.9" x2="2328.2" y2="256.9" stroke="#000" stroke-width="3.3"/>
<line x1="2336.6" y1="266.8" x2="2328.2" y2="266.8" stroke="#000" stroke-width="3.3"/>
<text transform="translate(2343.7,238.5) scale(1,1.04)" font-size="38.3" text-anchor="middle" font-weight="bold" fill="#000">Me</text>
<line x1="2373.1" y1="318.5" x2="2373.1" y2="363.1" stroke="#000" stroke-width="4"/>
<line x1="2382.9" y1="369.7" x2="2348" y2="394.7" stroke="#000" stroke-width="4"/>
<text transform="translate(2319.8,417.1) scale(1,1.04)" font-size="38.3" text-anchor="middle" font-weight="bold" fill="#000">Me</text>
<polygon points="2436.2,402.7 2467.8,384.9 2463.6,377.5 2432,395.3" fill="#000"/>
<text transform="translate(2497.3,384.4) scale(1,1.04)" font-size="38.3" text-anchor="middle" font-weight="bold" fill="#000">OH</text>
<line x1="2400.2" y1="473.2" x2="2404.6" y2="480.3" stroke="#000" stroke-width="3.3"/>
<line x1="2408.5" y1="468" x2="2412.9" y2="475.1" stroke="#000" stroke-width="3.3"/>
<line x1="2416.8" y1="462.8" x2="2421.3" y2="469.9" stroke="#000" stroke-width="3.3"/>
<text transform="translate(2356.8,500.7) scale(1,1.04)" font-size="38.3" text-anchor="middle" font-weight="bold" fill="#000">MeO</text>
<line x1="2486.6" y1="491.3" x2="2521.5" y2="471.2" stroke="#000" stroke-width="4"/>
<line x1="2481.6" y1="482.7" x2="2516.5" y2="462.6" stroke="#000" stroke-width="4"/>
<text transform="translate(2535,471.2) scale(1,1.04)" font-size="38.3" text-anchor="middle" font-weight="bold" fill="#000">O</text>
<polygon points="2481.9,541 2444.4,563.8 2448.8,571 2486.3,548.2" fill="#000"/>
<text transform="translate(2418.4,589.2) scale(1,1.04)" font-size="38.3" text-anchor="middle" font-weight="bold" fill="#000">Me</text>
<line x1="2493" y1="688.2" x2="2500.6" y2="684.8" stroke="#000" stroke-width="3.3"/>
<line x1="2488.9" y1="679.3" x2="2496.6" y2="675.8" stroke="#000" stroke-width="3.3"/>
<line x1="2484.9" y1="670.4" x2="2492.5" y2="666.9" stroke="#000" stroke-width="3.3"/>
<text transform="translate(2517.6,725.8) scale(1,1.04)" font-size="38.3" text-anchor="middle" font-weight="bold" fill="#000">Me</text>
<line x1="2427.8" y1="625" x2="2388" y2="648.5" stroke="#000" stroke-width="4"/>
<line x1="2327.3" y1="625" x2="2287" y2="648.5" stroke="#000" stroke-width="4"/>
<line x1="2191.7" y1="668.4" x2="2231.2" y2="645.5" stroke="#000" stroke-width="4"/>
<line x1="2180.6" y1="661.6" x2="2180.6" y2="700" stroke="#000" stroke-width="4"/>
<text transform="translate(2191.7,734.8) scale(1,1.04)" font-size="38.3" text-anchor="middle" font-weight="bold" fill="#000">Me</text>
<line x1="2134.3" y1="598.9" x2="2125.9" y2="598.9" stroke="#000" stroke-width="3.3"/>
<line x1="2134.3" y1="608.7" x2="2125.9" y2="608.7" stroke="#000" stroke-width="3.3"/>
<line x1="2134.3" y1="618.5" x2="2125.9" y2="618.5" stroke="#000" stroke-width="3.3"/>
<text transform="translate(2114.3,588.9) scale(1,1.04)" font-size="38.3" text-anchor="start" font-weight="bold" fill="#000">OMe</text>
<polygon points="2026.6,629.7 1994.1,649.2 1998.5,656.4 2031,636.9" fill="#000"/>
<text transform="translate(1963.9,676.8) scale(1,1.04)" font-size="38.3" text-anchor="middle" font-weight="bold" fill="#000">HO</text>
<polygon points="1978.1,540.8 1940.5,540.8 1940.5,549.2 1978.1,549.2" fill="#000"/>
<text transform="translate(1906.7,558.7) scale(1,1.04)" font-size="38.3" text-anchor="middle" font-weight="bold" fill="#000">HO</text>
<line x1="1957.2" y1="572.7" x2="1964.5" y2="576.9" stroke="#000" stroke-width="3.3"/>
<line x1="1962.1" y1="564.2" x2="1969.4" y2="568.4" stroke="#000" stroke-width="3.3"/>
<line x1="1967" y1="555.7" x2="1974.3" y2="559.9" stroke="#000" stroke-width="3.3"/>
<text transform="translate(1948.3,610.7) scale(1,1.04)" font-size="38.3" text-anchor="middle" font-weight="bold" fill="#000">H</text>
<line x1="2026.3" y1="462.3" x2="2060" y2="481.8" stroke="#000" stroke-width="4"/>
<line x1="2031.3" y1="453.7" x2="2065" y2="473.2" stroke="#000" stroke-width="4"/>
<text transform="translate(2078.9,501.6) scale(1,1.04)" font-size="38.3" text-anchor="middle" font-weight="bold" fill="#000">O</text>
<text transform="translate(2028.8,412.7) scale(1,1.04)" font-size="38.3" text-anchor="middle" font-weight="bold" fill="#000">N</text>
<polyline points="2008.8,387.7 1978.3,369.7 1978.3,310.9 2029.5,282.6 2079.6,310.9 2079.6,369.7 2049,387.7" fill="none" stroke="#000" stroke-width="4" stroke-linejoin="miter"/>
<polygon points="2077.6,373.4 2128.7,401.7 2132.7,394.3 2081.6,366" fill="#000"/>
<line x1="2125.7" y1="398" x2="2125.7" y2="436" stroke="#000" stroke-width="4"/>
<line x1="2135.7" y1="398" x2="2135.7" y2="436" stroke="#000" stroke-width="4"/>
<text transform="translate(2130.5,471.7) scale(1,1.04)" font-size="38.3" text-anchor="middle" font-weight="bold" fill="#000">O</text>
<line x1="2130.7" y1="398" x2="2162.3" y2="380.5" stroke="#000" stroke-width="4"/>
<circle cx="1112.8" cy="993.6" r="33" fill="#f9dd8e"/>
<line x1="1118.7" y1="818.6" x2="1118.7" y2="781" stroke="#000" stroke-width="4"/>
<line x1="1108.2" y1="818.6" x2="1108.2" y2="781" stroke="#000" stroke-width="4"/>
<text transform="translate(1113.4,773.6) scale(1,1.04)" font-size="38.3" text-anchor="middle" font-weight="bold" fill="#000">O</text>
<polyline points="1011.7,934.2 1062.8,904.3 1062.8,846.5 1113.4,818.6 1163.9,846.5 1163.9,905.3 1215,934.2 1214.9,993.2 1163.8,1021.9 1163.8,1080.4 1113.8,1109.1 1063.4,1080.4 1063.4,1044.3" fill="none" stroke="#000" stroke-width="4" stroke-linejoin="miter"/>
<polyline points="1011.7,934.2 1011.7,993.2 1044.7,1011.3" fill="none" stroke="#000" stroke-width="4" stroke-linejoin="miter"/>
<polygon points="1064.8,842.8 1031,824.5 1027,831.9 1060.8,850.2" fill="#000"/>
<text transform="translate(997.3,832.3) scale(1,1.04)" font-size="38.3" text-anchor="middle" font-weight="bold" fill="#000">Me</text>
<polygon points="1060.5,907.8 1092.3,928.1 1096.9,921.1 1065.1,900.8" fill="#000"/>
<text transform="translate(1126.4,948.9) scale(1,1.04)" font-size="38.3" text-anchor="middle" font-weight="bold" fill="#000">OH</text>
<line x1="981.2" y1="909" x2="976" y2="917" stroke="#000" stroke-width="3.8"/>
<line x1="991.5" y1="915.7" x2="986.4" y2="923.7" stroke="#000" stroke-width="3.8"/>
<line x1="1001.9" y1="922.3" x2="996.8" y2="930.3" stroke="#000" stroke-width="3.8"/>
<text transform="translate(946.2,919) scale(1,1.04)" font-size="38.3" text-anchor="middle" font-weight="bold" fill="#000">Me</text>
<line x1="960.9" y1="1017.9" x2="965.8" y2="1026.1" stroke="#000" stroke-width="3.8"/>
<line x1="971.5" y1="1011.6" x2="976.3" y2="1019.8" stroke="#000" stroke-width="3.8"/>
<line x1="982" y1="1005.4" x2="986.9" y2="1013.5" stroke="#000" stroke-width="3.8"/>
<line x1="992.6" y1="999.1" x2="997.5" y2="1007.2" stroke="#000" stroke-width="3.8"/>
<line x1="1003.2" y1="992.8" x2="1008" y2="1000.9" stroke="#000" stroke-width="3.8"/>
<line x1="961.7" y1="1023" x2="961.7" y2="1060.2" stroke="#000" stroke-width="4"/>
<text transform="translate(972.3,1095.2) scale(1,1.04)" font-size="38.3" text-anchor="middle" font-weight="bold" fill="#000">Me</text>
<text transform="translate(1062.8,1036.7) scale(1,1.04)" font-size="38.3" text-anchor="middle" font-weight="bold" fill="#000">O</text>
<line x1="1061.3" y1="1075.9" x2="1025.6" y2="1092.9" stroke="#000" stroke-width="4"/>
<line x1="1065.5" y1="1084.9" x2="1029.8" y2="1101.9" stroke="#000" stroke-width="4"/>
<text transform="translate(1011.7,1123.9) scale(1,1.04)" font-size="38.3" text-anchor="middle" font-weight="bold" fill="#000">O</text>
<text transform="translate(1067,1118.7) scale(1,1.04)" font-size="30" text-anchor="middle" font-weight="normal" fill="#000">1</text>
<polygon points="1109.6,1109.1 1109.6,1147.4 1118,1147.4 1118,1109.1" fill="#000"/>
<text transform="translate(1124.5,1183.5) scale(1,1.04)" font-size="38.3" text-anchor="middle" font-weight="bold" fill="#000">Me</text>
<line x1="1190.4" y1="1104.5" x2="1195.8" y2="1096.7" stroke="#000" stroke-width="3.8"/>
<line x1="1180.3" y1="1097.6" x2="1185.7" y2="1089.7" stroke="#000" stroke-width="3.8"/>
<line x1="1170.2" y1="1090.6" x2="1175.6" y2="1082.7" stroke="#000" stroke-width="3.8"/>
<text transform="translate(1227.7,1125) scale(1,1.04)" font-size="38.3" text-anchor="middle" font-weight="bold" fill="#000">OH</text>
<text transform="translate(1178.7,1045.4) scale(1,1.04)" font-size="30" text-anchor="middle" font-weight="normal" fill="#000">4</text>
<line x1="1129.6" y1="995.4" x2="1124.6" y2="1003.5" stroke="#000" stroke-width="3.8"/>
<line x1="1140.1" y1="1001.8" x2="1135.1" y2="1010" stroke="#000" stroke-width="3.8"/>
<line x1="1150.6" y1="1008.3" x2="1145.6" y2="1016.4" stroke="#000" stroke-width="3.8"/>
<text transform="translate(1113.8,1006.9) scale(1,1.04)" font-size="38.3" text-anchor="middle" font-weight="bold" fill="#000">F</text>
<line x1="1242.7" y1="1016.4" x2="1247.7" y2="1008.4" stroke="#000" stroke-width="3.8"/>
<line x1="1232.3" y1="1009.8" x2="1237.3" y2="1001.8" stroke="#000" stroke-width="3.8"/>
<line x1="1221.9" y1="1003.2" x2="1227" y2="995.2" stroke="#000" stroke-width="3.8"/>
<text transform="translate(1277.7,1036.7) scale(1,1.04)" font-size="38.3" text-anchor="middle" font-weight="bold" fill="#000">OH</text>
<line x1="1245.7" y1="920.9" x2="1240.7" y2="912.8" stroke="#000" stroke-width="3.8"/>
<line x1="1235.2" y1="927.4" x2="1230.2" y2="919.3" stroke="#000" stroke-width="3.8"/>
<line x1="1224.7" y1="933.8" x2="1219.7" y2="925.7" stroke="#000" stroke-width="3.8"/>
<text transform="translate(1275.7,920) scale(1,1.04)" font-size="38.3" text-anchor="middle" font-weight="bold" fill="#000">Me</text>
<line x1="1193.5" y1="835.3" x2="1188.8" y2="827" stroke="#000" stroke-width="3.8"/>
<line x1="1182.8" y1="841.3" x2="1178.1" y2="833" stroke="#000" stroke-width="3.8"/>
<text transform="translate(1225.6,832.3) scale(1,1.04)" font-size="38.3" text-anchor="middle" font-weight="bold" fill="#000">Me</text>
<circle cx="1731.3" cy="1068.8" r="33.2" fill="#f9dd8e"/>
<line x1="1399.7" y1="782.2" x2="1455" y2="757.5" stroke="#000" stroke-width="4" stroke-dasharray="9,7"/>
<line x1="1368.5" y1="989" x2="1360.2" y2="1055" stroke="#000" stroke-width="4" stroke-dasharray="9,7"/>
<polyline points="1427.7,770.6 1451.7,823.6 1489.3,832.2" fill="none" stroke="#000" stroke-width="4" stroke-linejoin="miter"/>
<text transform="translate(1508.6,849.8) scale(1,1.04)" font-size="38.3" text-anchor="middle" font-weight="bold" fill="#000">N</text>
<line x1="1511" y1="856.3" x2="1515.3" y2="892.9" stroke="#000" stroke-width="4"/>
<line x1="1499.9" y1="857.3" x2="1503.7" y2="887.1" stroke="#000" stroke-width="4"/>
<line x1="1515.3" y1="892.9" x2="1479.7" y2="909.3" stroke="#000" stroke-width="4"/>
<text transform="translate(1461.4,930.7) scale(1,1.04)" font-size="38.3" text-anchor="middle" font-weight="bold" fill="#000">S</text>
<line x1="1446.9" y1="901.6" x2="1421.9" y2="873.7" stroke="#000" stroke-width="4"/>
<line x1="1421.9" y1="873.7" x2="1451.7" y2="823.6" stroke="#000" stroke-width="4"/>
<line x1="1436.3" y1="872.7" x2="1457.5" y2="836.1" stroke="#000" stroke-width="4"/>
<line x1="1515.3" y1="892.9" x2="1565" y2="922.8" stroke="#000" stroke-width="4"/>
<polyline points="1595.2,997.8 1565,980.5 1565,922.8 1615.5,892.9 1665.6,922.8 1665.6,980.5 1635.7,997.8" fill="none" stroke="#000" stroke-width="4" stroke-linejoin="miter"/>
<line x1="1576" y1="928.6" x2="1615.5" y2="906.4" stroke="#000" stroke-width="4"/>
<line x1="1655" y1="928.6" x2="1655" y2="973.8" stroke="#000" stroke-width="4"/>
<line x1="1576" y1="974.7" x2="1600.4" y2="988.2" stroke="#000" stroke-width="4"/>
<text transform="translate(1614.5,1023.1) scale(1,1.04)" font-size="38.3" text-anchor="middle" font-weight="bold" fill="#000">N</text>
<line x1="1665.6" y1="922.8" x2="1697.4" y2="904.5" stroke="#000" stroke-width="4"/>
<text transform="translate(1730,907.2) scale(1,1.04)" font-size="38.3" text-anchor="middle" font-weight="bold" fill="#000">OH</text>
<line x1="1565" y1="980.5" x2="1514.3" y2="1009.4" stroke="#000" stroke-width="4"/>
<polyline points="1482.2,994.9 1514.3,1009.4 1509.1,1067.1 1470,1075.8" fill="none" stroke="#000" stroke-width="4" stroke-linejoin="miter"/>
<line x1="1503.7" y1="1016.1" x2="1499.5" y2="1057.9" stroke="#000" stroke-width="4"/>
<text transform="translate(1451.7,1093.4) scale(1,1.04)" font-size="38.3" text-anchor="middle" font-weight="bold" fill="#000">S</text>
<polyline points="1441.1,1060.4 1422.8,1029 1446.3,1003.6" fill="none" stroke="#000" stroke-width="4" stroke-linejoin="miter"/>
<line x1="1436.3" y1="1030.2" x2="1454.6" y2="1010.9" stroke="#000" stroke-width="4"/>
<text transform="translate(1461.4,999.9) scale(1,1.04)" font-size="38.3" text-anchor="middle" font-weight="bold" fill="#000">N</text>
<line x1="1422.8" y1="1029" x2="1366" y2="1022.8" stroke="#000" stroke-width="4"/>
<line x1="1665.6" y1="980.5" x2="1715.4" y2="1009.6" stroke="#000" stroke-width="4"/>
<polyline points="1719.8,1045 1715.4,1009.6 1748.5,995.2" fill="none" stroke="#000" stroke-width="4" stroke-linejoin="miter"/>
<line x1="1727.5" y1="1015.8" x2="1753" y2="1005.2" stroke="#000" stroke-width="4"/>
<text transform="translate(1768.4,1000.1) scale(1,1.04)" font-size="38.3" text-anchor="middle" font-weight="bold" fill="#000">N</text>
<polyline points="1785,1003 1807.1,1028.4 1778.4,1079.2 1761.8,1074.8" fill="none" stroke="#000" stroke-width="4" stroke-linejoin="miter"/>
<line x1="1795" y1="1031.3" x2="1774" y2="1067.1" stroke="#000" stroke-width="4"/>
<text transform="translate(1732,1081.9) scale(1,1.04)" font-size="38.3" text-anchor="middle" font-weight="bold" fill="#000">Se</text>
<line x1="1807.1" y1="1028.4" x2="1865.7" y2="1024" stroke="#000" stroke-width="4"/>
<line x1="1870.3" y1="1026" x2="1885.1" y2="992" stroke="#000" stroke-width="4"/>
<line x1="1861.1" y1="1022" x2="1875.9" y2="988" stroke="#000" stroke-width="4"/>
<text transform="translate(1889,983.5) scale(1,1.04)" font-size="38.3" text-anchor="middle" font-weight="bold" fill="#000">O</text>
<line x1="1865.7" y1="1024" x2="1882.3" y2="1045" stroke="#000" stroke-width="4"/>
<text transform="translate(1885.6,1084.1) scale(1,1.04)" font-size="38.3" text-anchor="middle" font-weight="bold" fill="#000">HN</text>
<line x1="1916.6" y1="1068.2" x2="1957.5" y2="1064.4" stroke="#000" stroke-width="4"/>
<line x1="1962.1" y1="1066.4" x2="1985.8" y2="1013.5" stroke="#000" stroke-width="4"/>
<line x1="1952.9" y1="1062.4" x2="1976.6" y2="1009.5" stroke="#000" stroke-width="4"/>
<line x1="1957.5" y1="1064.4" x2="1991.7" y2="1111.3" stroke="#000" stroke-width="4"/>
<line x1="1987.1" y1="1109.3" x2="1972.2" y2="1143" stroke="#000" stroke-width="4"/>
<line x1="1996.3" y1="1113.3" x2="1981.4" y2="1147" stroke="#000" stroke-width="4"/>
<text transform="translate(1967.4,1179.2) scale(1,1.04)" font-size="38.3" text-anchor="middle" font-weight="bold" fill="#000">O</text>
<line x1="1991.7" y1="1111.3" x2="2031.5" y2="1106.9" stroke="#000" stroke-width="4"/>
<text transform="translate(2035.6,1118.4) scale(1,1.04)" font-size="38.3" text-anchor="start" font-weight="bold" fill="#000">NH</text>
<text transform="translate(2090.7,1126) scale(1,1.04)" font-size="27" text-anchor="start" font-weight="bold" fill="#000">2</text>
<circle cx="2258.6" cy="1136.8" r="33.7" fill="#f9dd8e"/>
<line x1="2307.9" y1="828.1" x2="2271.6" y2="811.5" stroke="#000" stroke-width="4"/>
<line x1="2303.7" y1="837.1" x2="2267.4" y2="820.5" stroke="#000" stroke-width="4"/>
<text transform="translate(2252.8,819.3) scale(1,1.04)" font-size="38.3" text-anchor="middle" font-weight="bold" fill="#000">O</text>
<line x1="2305.8" y1="832.6" x2="2333.7" y2="816.2" stroke="#000" stroke-width="4"/>
<text transform="translate(2365.5,819.3) scale(1,1.04)" font-size="38.3" text-anchor="middle" font-weight="bold" fill="#000">OH</text>
<polygon points="2307.1,877.2 2310,832.9 2301.6,832.3 2298.7,876.6" fill="#000"/>
<line x1="2302.9" y1="876.9" x2="2269.2" y2="893.3" stroke="#000" stroke-width="4"/>
<text transform="translate(2250.9,916.6) scale(1,1.04)" font-size="38.3" text-anchor="middle" font-weight="bold" fill="#000">S</text>
<line x1="2250.5" y1="924.1" x2="2250.5" y2="960.5" stroke="#000" stroke-width="4"/>
<polyline points="2302.9,876.9 2354.9,903.9 2354.9,970.5 2390.6,1016.8 2371.3,1043.8" fill="none" stroke="#000" stroke-width="4" stroke-linejoin="miter"/>
<polygon points="2250.5,960.5 2301,988.8 2302,1047.7 2251.9,1076.5 2199.9,1048.6 2199.9,989.8" fill="none" stroke="#000" stroke-width="4.0"/>
<line x1="2354.9" y1="970.5" x2="2301" y2="988.8" stroke="#000" stroke-width="4"/>
<line x1="2211.4" y1="995.6" x2="2250" y2="972.5" stroke="#000" stroke-width="4"/>
<line x1="2211.4" y1="1041.9" x2="2251.9" y2="1065" stroke="#000" stroke-width="4"/>
<line x1="2291" y1="995.6" x2="2291" y2="1040" stroke="#000" stroke-width="4"/>
<line x1="2352" y1="983.1" x2="2377" y2="1015.9" stroke="#000" stroke-width="4"/>
<line x1="2302" y1="1047.7" x2="2336.6" y2="1058.2" stroke="#000" stroke-width="4"/>
<text transform="translate(2356.5,1077.7) scale(1,1.04)" font-size="38.3" text-anchor="middle" font-weight="bold" fill="#000">N</text>
<text transform="translate(2356.5,1110.5) scale(1,1.04)" font-size="38.3" text-anchor="middle" font-weight="bold" fill="#000">H</text>
<line x1="2251.9" y1="1076.5" x2="2252.4" y2="1113.2" stroke="#000" stroke-width="4"/>
<text transform="translate(2256.7,1148) scale(1,1.04)" font-size="38.3" text-anchor="middle" font-weight="bold" fill="#000">Cl</text>
</svg></body></html>
